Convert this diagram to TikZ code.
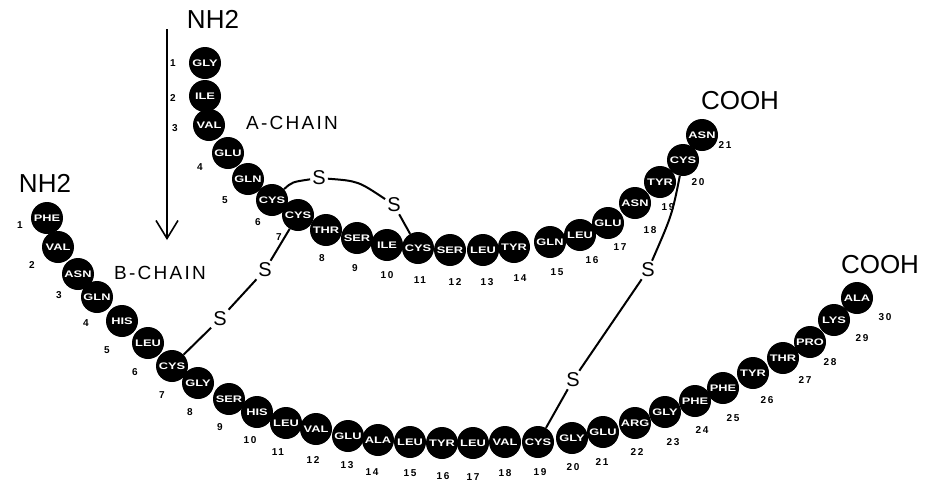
\documentclass[tikz,border=0pt]{standalone}
\usepackage{fontspec}
\setmainfont{Liberation Sans}
\usetikzlibrary{arrows.meta}
\newcommand{\rsname}[1]{\scalebox{1.35}[1]{#1}}
\begin{document}
\begin{tikzpicture}[x=1pt,y=-1pt,
  res/.style={circle,fill=black,minimum size=32pt,inner sep=0pt,text=white,font=\fontsize{9.5}{9.5}\selectfont\bfseries},
  num/.style={inner sep=0pt,font=\fontsize{10}{10}\selectfont\bfseries\addfontfeature{LetterSpace=15}},
  term/.style={inner sep=1pt,font=\fontsize{26}{26}\selectfont},
  chain/.style={inner sep=1pt,font=\fontsize{19}{19}\selectfont\addfontfeature{LetterSpace=12}},
  sulf/.style={inner sep=2pt,font=\fontsize{20}{20}\selectfont},
  bond/.style={line width=2pt}
]
\useasboundingbox (0,0) rectangle (935,483);
% A chain
\foreach \n/\x/\y/\t/\nx/\ny in {
 1/205/63/GLY/173/63, 2/205/96/ILE/173/98, 3/209/125/VAL/175/128,
 4/228/153/GLU/200/167, 5/248/179/GLN/225/200, 6/272/200/CYS/258/222,
 7/298/215/CYS/279/237, 8/326/230/THR/322/258, 9/357/238/SER/355/268,
 10/387/245/ILE/387/275, 11/418/248/CYS/420/280, 12/450/250/SER/455/282,
 13/483/250/LEU/487/282, 14/514/247/TYR/520/278, 15/550/242/GLN/557/272,
 16/580/235/LEU/592/260, 17/608/223/GLU/620/247, 18/635/203/ASN/650/230,
 19/660/182/TYR/668/207, 20/683/160/CYS/698/182, 21/702/135/ASN/725/145}
{
  \node[res] (a\n) at (\x,\y) {\rsname{\t}};
  \node[num] (an\n) at (\nx,\ny) {\n};
}
% B chain
\foreach \n/\x/\y/\t/\nx/\ny in {
 1/47/218/PHE/20/225, 2/58/247/VAL/32/265, 3/78/274/ASN/59/295,
 4/97/297/GLN/86/323, 5/122/321/HIS/107/350, 6/148/343/LEU/135/372,
 7/172/366/CYS/162/395, 8/198/383/GLY/190/412, 9/229/399/SER/220/427,
 10/257/412/HIS/250/440, 11/286/423/LEU/278/452, 12/316/429/VAL/313/460,
 13/348/436/GLU/347/465, 14/378/440/ALA/372/472, 15/410/442/LEU/410/473,
 16/442/443/TYR/443/476, 17/473/443/LEU/473/477, 18/505/442/VAL/505/473,
 19/538/442/CYS/540/472, 20/572/438/GLY/573/467, 21/603/432/GLU/602/462,
 22/635/423/ARG/637/452, 23/665/412/GLY/673/442, 24/695/401/PHE/702/430,
 25/723/388/PHE/733/418, 26/753/373/TYR/767/400, 27/783/358/THR/805/380,
 28/810/342/PRO/830/362, 29/834/320/LYS/862/338, 30/857/298/ALA/885/317}
{
  \node[res] (b\n) at (\x,\y) {\rsname{\t}};
  \node[num] (bn\n) at (\nx,\ny) {\n};
}
% terminals and chain labels
\node[term] (aN) at (213,19) {NH2};
\node[term] (aC) at (740,101) {COOH};
\node[term] (bN) at (45,183) {NH2};
\node[term] (bC) at (880,265) {COOH};
\node[chain] (aL) at (292,123) {A-CHAIN};
\node[chain] (bL) at (160,273) {B-CHAIN};
% arrow
\coordinate (arrTop) at (167,29);
\coordinate (arrTip) at (167,240);
\draw[line width=1.6pt,-{Straight Barb[length=18pt,width=22pt]}] (arrTop) -- (arrTip);
% sulfur atoms
\node[sulf] (s1) at (319,178) {S};
\node[sulf] (s2) at (394,205) {S};
\node[sulf] (s3) at (265,270) {S};
\node[sulf] (s4) at (220,319) {S};
\node[sulf] (s5) at (648,270) {S};
\node[sulf] (s6) at (573,380) {S};
% disulfide bonds
\draw[bond] (a6) .. controls (292,182) .. (s1);
\draw[bond] (s1) .. controls (358,181) .. (s2);
\draw[bond] (s2) -- (a11);
\draw[bond] (a7) -- (s3);
\draw[bond] (s3) -- (s4);
\draw[bond] (s4) -- (b7);
\draw[bond] (a20) .. controls (672,215) .. (s5);
\draw[bond] (s5) -- (s6);
\draw[bond] (s6) -- (b19);
\end{tikzpicture}
\end{document}
